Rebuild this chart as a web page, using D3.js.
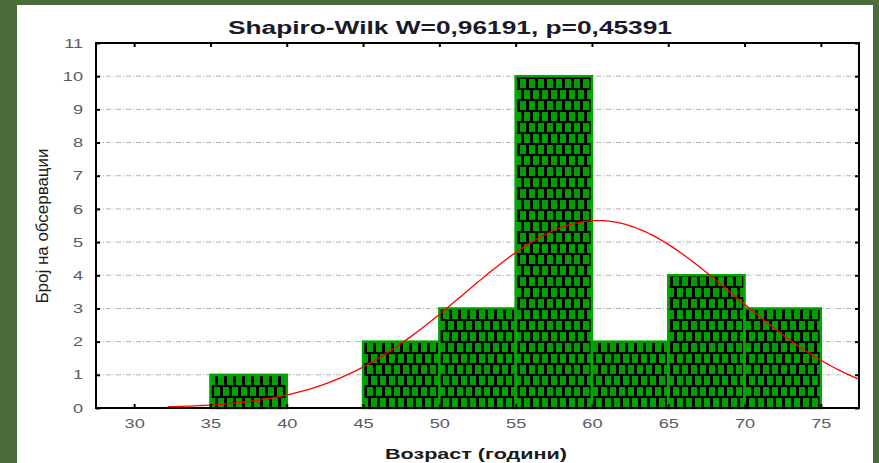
<!DOCTYPE html>
<html>
<head>
<meta charset="utf-8">
<script src="https://cdn.jsdelivr.net/npm/d3@7"></script>
<style>
  body { margin: 0; background: #4b6c3b; }
  svg { display: block; }
</style>
</head>
<body>
<div id="chart"></div>
<script>
// histogram bins (age, years) and counts
let binStarts = [35, 40, 45, 50, 55, 60, 65, 70];
let binCounts = [1, 0, 2, 3, 10, 2, 4, 3];
let binWidth = 5;
let xTicks = [30, 35, 40, 45, 50, 55, 60, 65, 70, 75];
let yTicks = [0, 1, 2, 3, 4, 5, 6, 7, 8, 9, 10, 11];
// fitted normal curve
let fitMean = 60.4, fitSd = 8.83, fitN = 25;
let curveFrom = 32.2, curveTo = 77.5;

let width = 879, height = 463;
let stretch = 1.4; // the original picture is stretched sideways

let svg = d3.select("#chart").append("svg")
  .attr("width", width)
  .attr("height", height);

// frame
svg.append("rect").attr("width", width).attr("height", height).attr("fill", "#4b6c3b");
svg.append("rect")
  .attr("x", 17).attr("y", 5)
  .attr("width", 856).attr("height", height - 5)
  .attr("fill", "#fff");

let x = d3.scaleLinear().domain([27.5, 77.5]).range([96, 859]);
let y = d3.scaleLinear().domain([0, 11]).range([408, 43]);

// brick pattern
let defs = svg.append("defs");
let pat = defs.append("pattern")
  .attr("id", "brick")
  .attr("patternUnits", "userSpaceOnUse")
  .attr("width", 9).attr("height", 22);
pat.append("rect").attr("width", 9).attr("height", 22).attr("fill", "#000");
pat.append("rect").attr("x", 2).attr("y", 2).attr("width", 6).attr("height", 9).attr("fill", "#009e00");
pat.append("rect").attr("x", -2).attr("y", 13).attr("width", 6).attr("height", 9).attr("fill", "#009e00");
pat.append("rect").attr("x", 7).attr("y", 13).attr("width", 6).attr("height", 9).attr("fill", "#009e00");

// grid
svg.append("g").selectAll("line")
  .data(yTicks.filter(function(d) { return d > 0 && d < 11; }))
  .enter().append("line")
  .attr("x1", x(27.5)).attr("x2", x(77.5))
  .attr("y1", function(d) { return y(d); })
  .attr("y2", function(d) { return y(d); })
  .attr("stroke", "#b4b4b4")
  .attr("stroke-width", 1)
  .attr("stroke-dasharray", "5,2,1,2");

// bars
let bins = binStarts.map(function(s, i) { return {x0: s, count: binCounts[i]}; })
  .filter(function(d) { return d.count > 0; });

svg.append("g").selectAll("rect")
  .data(bins)
  .enter().append("rect")
  .attr("x", function(d) { return x(d.x0); })
  .attr("y", function(d) { return y(d.count); })
  .attr("width", function(d) { return x(d.x0 + binWidth) - x(d.x0); })
  .attr("height", function(d) { return y(0) - y(d.count); })
  .attr("fill", "url(#brick)")
  .attr("stroke", "#00a800")
  .attr("stroke-width", 2.5);

// normal curve
let curvePts = d3.range(curveFrom, curveTo + 0.01, 0.25).map(function(v) {
  let z = (v - fitMean) / fitSd;
  return [v, fitN * binWidth * Math.exp(-0.5 * z * z) / (fitSd * Math.sqrt(2 * Math.PI))];
});
svg.append("path")
  .datum(curvePts)
  .attr("fill", "none")
  .attr("stroke", "#ff0000")
  .attr("stroke-width", 1.3)
  .attr("d", d3.line()
    .x(function(d) { return x(d[0]); })
    .y(function(d) { return y(d[1]); }));

// axes, ticks pointing inward
let tickFont = "13px 'Liberation Sans', Arial, sans-serif";
let gx = svg.append("g")
  .attr("transform", "translate(0,408)")
  .call(d3.axisBottom(x).tickValues(xTicks).tickSizeInner(-4).tickSizeOuter(0).tickPadding(11))
  .call(function(g) { g.select(".domain").remove(); });
svg.append("g")
  .attr("transform", "translate(0,43)")
  .call(d3.axisTop(x).tickValues(xTicks).tickSizeInner(-4).tickSizeOuter(0).tickFormat(""))
  .call(function(g) { g.select(".domain").remove(); });
let gy = svg.append("g")
  .attr("transform", "translate(96,0)")
  .call(d3.axisLeft(y).tickValues(yTicks).tickSizeInner(-4).tickSizeOuter(0).tickPadding(13))
  .call(function(g) { g.select(".domain").remove(); });
svg.append("g")
  .attr("transform", "translate(859,0)")
  .call(d3.axisRight(y).tickValues(yTicks).tickSizeInner(-4).tickSizeOuter(0).tickFormat(""))
  .call(function(g) { g.select(".domain").remove(); });

svg.selectAll(".tick line").attr("stroke", "#000").attr("stroke-width", 2);
svg.selectAll(".tick text")
  .style("font", tickFont)
  .attr("fill", "#5a5a66");
gx.selectAll(".tick text").attr("transform", "scale(" + stretch + ",1)");
gy.selectAll(".tick text")
  .attr("x", -13 / stretch)
  .attr("transform", "scale(" + stretch + ",1)");

// plot border
svg.append("rect")
  .attr("x", 96).attr("y", 43)
  .attr("width", 859 - 96).attr("height", 408 - 43)
  .attr("fill", "none")
  .attr("stroke", "#000")
  .attr("stroke-width", 2);

// titles
svg.append("text")
  .attr("x", 450).attr("y", 34)
  .attr("text-anchor", "middle")
  .attr("textLength", 444)
  .attr("lengthAdjust", "spacingAndGlyphs")
  .style("font", "bold 18px 'Liberation Sans', Arial, sans-serif")
  .attr("fill", "#1a1a2a")
  .text("Shapiro-Wilk W=0,96191, p=0,45391");

svg.append("text")
  .attr("x", 476).attr("y", 459)
  .attr("text-anchor", "middle")
  .attr("textLength", 182)
  .attr("lengthAdjust", "spacingAndGlyphs")
  .style("font", "bold 15px 'Liberation Sans', Arial, sans-serif")
  .attr("fill", "#1a1a1a")
  .text("Возраст (години)");

svg.append("text")
  .attr("transform", "translate(48,226) rotate(-90)")
  .attr("text-anchor", "middle")
  .attr("textLength", 155)
  .attr("lengthAdjust", "spacingAndGlyphs")
  .style("font", "16px 'Liberation Sans Narrow', 'Liberation Sans', Arial, sans-serif")
  .attr("fill", "#1a1a1a")
  .text("Број на обсервации");
</script>
</body>
</html>
